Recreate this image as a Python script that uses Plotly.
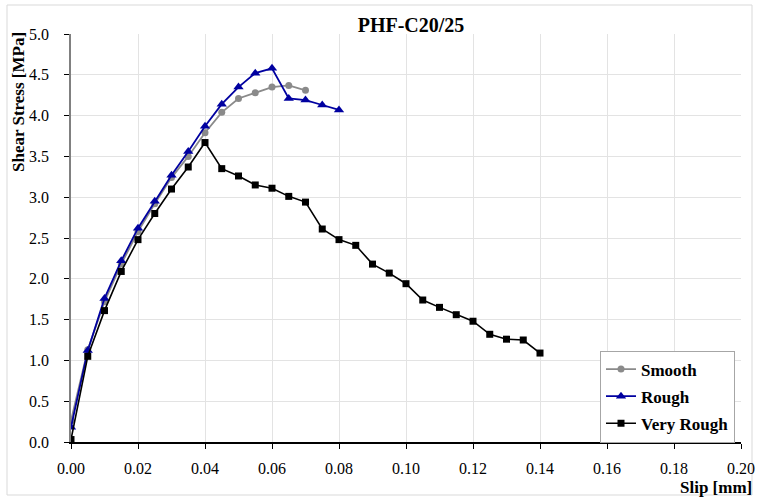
import plotly.graph_objects as go

# Slip values [mm]
slip_smooth = [0.000, 0.005, 0.010, 0.015, 0.020, 0.025, 0.030, 0.035, 0.040,
               0.045, 0.050, 0.055, 0.060, 0.065, 0.070]
slip_rough = [0.000, 0.005, 0.010, 0.015, 0.020, 0.025, 0.030, 0.035, 0.040,
              0.045, 0.050, 0.055, 0.060, 0.065, 0.070, 0.075, 0.080]
slip_very_rough = [0.000, 0.005, 0.010, 0.015, 0.020, 0.025, 0.030, 0.035, 0.040,
                   0.045, 0.050, 0.055, 0.060, 0.065, 0.070, 0.075, 0.080, 0.085,
                   0.090, 0.095, 0.100, 0.105, 0.110, 0.115, 0.120, 0.125, 0.130,
                   0.135, 0.140]

# Shear stress values [MPa]
stress_smooth = [0.26, 1.13, 1.72, 2.18, 2.58, 2.92, 3.24, 3.50, 3.79,
                 4.04, 4.21, 4.28, 4.35, 4.37, 4.31]
stress_rough = [0.18, 1.12, 1.76, 2.22, 2.62, 2.95, 3.27, 3.56, 3.87,
                4.14, 4.35, 4.52, 4.58, 4.21, 4.19, 4.13, 4.07]
stress_very_rough = [0.03, 1.05, 1.61, 2.09, 2.48, 2.80, 3.10, 3.37, 3.67,
                     3.35, 3.26, 3.15, 3.11, 3.01, 2.94, 2.61, 2.48, 2.41,
                     2.18, 2.07, 1.94, 1.74, 1.65, 1.56, 1.48, 1.32, 1.26,
                     1.25, 1.09]

x_ticks = [0.00, 0.02, 0.04, 0.06, 0.08, 0.10, 0.12, 0.14, 0.16, 0.18, 0.20]
y_ticks = [0.0, 0.5, 1.0, 1.5, 2.0, 2.5, 3.0, 3.5, 4.0, 4.5, 5.0]

FONT = "Liberation Serif"
TICK_FONT = dict(family=FONT, size=16, color="#000000")

fig = go.Figure()
fig.add_trace(go.Scatter(
    x=slip_smooth, y=stress_smooth, name="Smooth", mode="lines+markers",
    legendgroup="smooth",
    line=dict(color="#8a8a8a", width=1.8),
    marker=dict(symbol="circle", size=7, color="#8a8a8a"),
))
fig.add_trace(go.Scatter(
    x=slip_rough, y=stress_rough, name="Rough", mode="lines+markers",
    legendgroup="rough",
    line=dict(color="#0000a0", width=1.8),
    marker=dict(symbol="triangle-up", size=9, color="#0000a0"),
))
fig.add_trace(go.Scatter(
    x=slip_very_rough, y=stress_very_rough, name="Very Rough", mode="lines+markers",
    legendgroup="very_rough",
    line=dict(color="#000000", width=1.6),
    marker=dict(symbol="square", size=7, color="#000000"),
))

fig.update_layout(
    width=758, height=499,
    margin=dict(l=71, r=17, t=34, b=57, autoexpand=False),
    paper_bgcolor="white", plot_bgcolor="white",
    font=dict(family=FONT, size=15, color="#000000"),
    title=dict(text="<b>PHF-C20/25</b>", x=(411 / 758), xanchor="center",
               y=1 - 25 / 499, yanchor="middle",
               font=dict(family=FONT, size=20, color="#000000")),
    showlegend=True,
    legend=dict(
        x=(600 - 71) / 670, y=(442 - 396.5) / 408, xanchor="left", yanchor="middle",
        bgcolor="white", bordercolor="#a6a6a6", borderwidth=1,
        font=dict(family=FONT, size=17, color="#000000", weight="bold"),
        itemwidth=30, tracegroupgap=2,
    ),
)

fig.update_xaxes(
    range=[0, 0.20], tickvals=x_ticks, ticktext=[f"{v:.2f}" for v in x_ticks],
    tickfont=TICK_FONT, automargin=False,
    showgrid=True, gridcolor="#e3e3e3", gridwidth=1,
    showline=True, linecolor="#000000", linewidth=1.5,
    ticks="outside", ticklen=5, tickcolor="#000000",
    zeroline=False, ticklabelstandoff=6,
)
fig.update_yaxes(
    range=[0, 5.0], tickvals=y_ticks, ticktext=[f"{v:.1f}" for v in y_ticks],
    tickfont=TICK_FONT, automargin=False,
    showgrid=True, gridcolor="#e3e3e3", gridwidth=1,
    showline=True, linecolor="#808080", linewidth=1.5,
    ticks="outside", ticklen=5, tickcolor="#000000",
    zeroline=False, ticklabelstandoff=12,
)

# Axis titles
fig.add_annotation(
    text="<b>Shear Stress [MPa]</b>", textangle=-90,
    xref="paper", yref="paper", x=(19 - 71) / 670, y=(442 - 102) / 408,
    xanchor="center", yanchor="middle", showarrow=False,
    font=dict(family=FONT, size=17, color="#000000"),
)
fig.add_annotation(
    text="<b>Slip [mm]</b>",
    xref="paper", yref="paper", x=(754 - 71) / 670, y=(442 - 487) / 408,
    xanchor="right", yanchor="middle", showarrow=False,
    font=dict(family=FONT, size=17, color="#000000"),
)

# Outer chart frame
fig.add_shape(
    type="rect", xref="paper", yref="paper",
    x0=(7 - 71) / 670, x1=(752 - 71) / 670,
    y0=(442 - 495) / 408, y1=(442 - 5) / 408,
    line=dict(color="#d9d9d9", width=1), fillcolor="rgba(0,0,0,0)", layer="below",
)

fig.write_html("out.html")
